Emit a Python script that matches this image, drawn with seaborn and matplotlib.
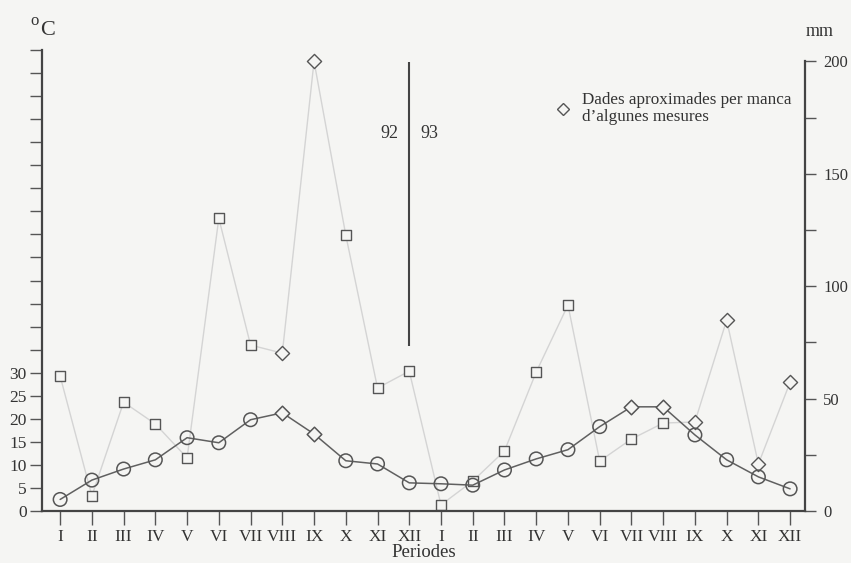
import matplotlib
matplotlib.use("Agg")
import matplotlib.pyplot as plt
from matplotlib.lines import Line2D
import seaborn as sns
import pandas as pd
import numpy as np

# ---- data ----
periods = ["I", "II", "III", "IV", "V", "VI", "VII", "VIII", "IX", "X", "XI", "XII",
           "I", "II", "III", "IV", "V", "VI", "VII", "VIII", "IX", "X", "XI", "XII"]
temp_c = [2.5, 6.7, 9.1, 11.1, 15.9, 14.8, 19.8, 21.3, 16.7, 10.9, 10.2, 6.1,
          5.9, 5.6, 8.9, 11.3, 13.3, 18.3, 22.6, 22.6, 16.5, 11.1, 7.4, 4.8]
temp_approx = [0, 0, 0, 0, 0, 0, 0, 1, 1, 0, 0, 0,
               0, 0, 0, 0, 0, 0, 1, 1, 0, 0, 0, 0]
rain_mm = [60, 6.7, 48.4, 38.7, 23.6, 130.2, 73.8, 70.2, 200, 122.7, 54.7, 62.2,
           2.7, 13.3, 26.7, 61.8, 91.6, 22.2, 32, 39.1, 39.6, 84.9, 20.9, 57.3]
rain_approx = [0, 0, 0, 0, 0, 0, 0, 1, 1, 0, 0, 0,
               0, 0, 0, 0, 0, 0, 0, 0, 1, 1, 1, 1]
temp_ticks = list(range(0, 101, 5))
temp_labels = [str(v) if v <= 30 else "" for v in temp_ticks]
rain_ticks = [0, 50, 100, 150, 200]
rain_minor = [25, 75, 125, 175]
year_labels = ["92", "93"]
year_split = 11
legend_text = "Dades aproximades per manca\nd\u2019algunes mesures"

df = pd.DataFrame({
    "idx": np.arange(len(periods)),
    "temp": temp_c,
    "t_approx": temp_approx,
    "rain": rain_mm,
    "r_approx": rain_approx,
})

# ---- style ----
bg = "#f5f5f3"
dark = "#555555"
txt = "#333333"
sns.set_theme(style="white")
plt.rcParams["font.family"] = ["Liberation Serif", "DejaVu Serif"]
plt.rcParams["axes.facecolor"] = bg
plt.rcParams["figure.facecolor"] = bg

fig = plt.figure(figsize=(8.51, 5.63), dpi=100)
ax = fig.add_axes([0.0494, 0.0924, 0.8966, 0.8186])
ax2 = ax.twinx()
ax2.set_zorder(1)
ax.set_zorder(2)
ax.patch.set_visible(False)

# rain series (right axis)
sns.lineplot(data=df, x="idx", y="rain", ax=ax2, color="#d4d4d4", linewidth=1.0)
sns.scatterplot(data=df[df.r_approx == 0], x="idx", y="rain", ax=ax2, marker="s",
                s=62, fc=bg, ec=dark, linewidth=1.0, zorder=3)
sns.scatterplot(data=df[df.r_approx == 1], x="idx", y="rain", ax=ax2, marker="D",
                s=52, fc=bg, ec=dark, linewidth=1.0, zorder=3)

# temperature series (left axis)
sns.lineplot(data=df, x="idx", y="temp", ax=ax, color="#606060", linewidth=1.1)
sns.scatterplot(data=df[df.t_approx == 0], x="idx", y="temp", ax=ax, marker="o",
                s=95, fc="none", ec=dark, linewidth=1.1, zorder=3)
sns.scatterplot(data=df[df.t_approx == 1], x="idx", y="temp", ax=ax, marker="D",
                s=55, fc=bg, ec=dark, linewidth=1.1, zorder=3)

# axes limits
ax.set_xlim(-0.57, 23.47)
ax.set_ylim(0, 100)
ax2.set_ylim(0, 205)

# spines
for a in (ax, ax2):
    a.spines["top"].set_visible(False)
ax.spines["right"].set_visible(False)
ax2.spines["left"].set_visible(False)
ax2.spines["bottom"].set_visible(False)
for sp in (ax.spines["left"], ax.spines["bottom"], ax2.spines["right"]):
    sp.set_color("#444444")
    sp.set_linewidth(1.6)
ax2.spines["right"].set_bounds(0, 200)

# ticks
ax.set_xticks(df["idx"])
ax.set_xticklabels(periods, fontsize=12.5, color=txt)
ax.set_yticks(temp_ticks)
ax.set_yticklabels(temp_labels, fontsize=12.5, color=txt)
ax.tick_params(axis="both", direction="out", length=9, width=1.0, color="#555555",
               pad=2, left=True, bottom=True)
ax.tick_params(axis="x", length=10, pad=3)
ax2.set_yticks(rain_ticks)
ax2.set_yticklabels([str(v) for v in rain_ticks], fontsize=12, color=txt)
ax2.set_yticks(rain_minor, minor=True)
ax2.tick_params(axis="y", which="both", direction="out", length=8, width=1.0,
                color="#555555", right=True, pad=5)
ax.set_xlabel("Periodes", fontsize=13.5, color=txt, labelpad=-1)
ax.set_ylabel("")
ax2.set_ylabel("")
ax.grid(False)
ax2.grid(False)

# year separator
ax.vlines(year_split, 35.9, 97.4, color="#444444", linewidth=1.5, zorder=4)
ax.text(year_split - 0.35, 81.8, year_labels[0], ha="right", va="center",
        fontsize=13, color=txt)
ax.text(year_split + 0.35, 81.8, year_labels[1], ha="left", va="center",
        fontsize=13, color=txt)

# unit labels
fig.text(0.036, 0.962, "o", fontsize=12, color=txt, ha="left", va="center")
fig.text(0.047, 0.945, "C", fontsize=16, color=txt, ha="left", va="center")
fig.text(0.963, 0.944, "mm", fontsize=13, color=txt, ha="center", va="center")

# legend for approximated data
handle = Line2D([], [], marker="D", linestyle="none", markersize=6,
                markerfacecolor=bg, markeredgecolor=dark, markeredgewidth=1.0)
leg = ax.legend([handle], [legend_text], loc="upper left",
                bbox_to_anchor=(0.646, 0.848), bbox_transform=fig.transFigure,
                frameon=False, fontsize=12.3, handlelength=0.8, handletextpad=0.7,
                borderaxespad=0)
for t in leg.get_texts():
    t.set_color(txt)
    t.set_linespacing(1.05)

fig.savefig("out.png", dpi=100, facecolor=bg)
